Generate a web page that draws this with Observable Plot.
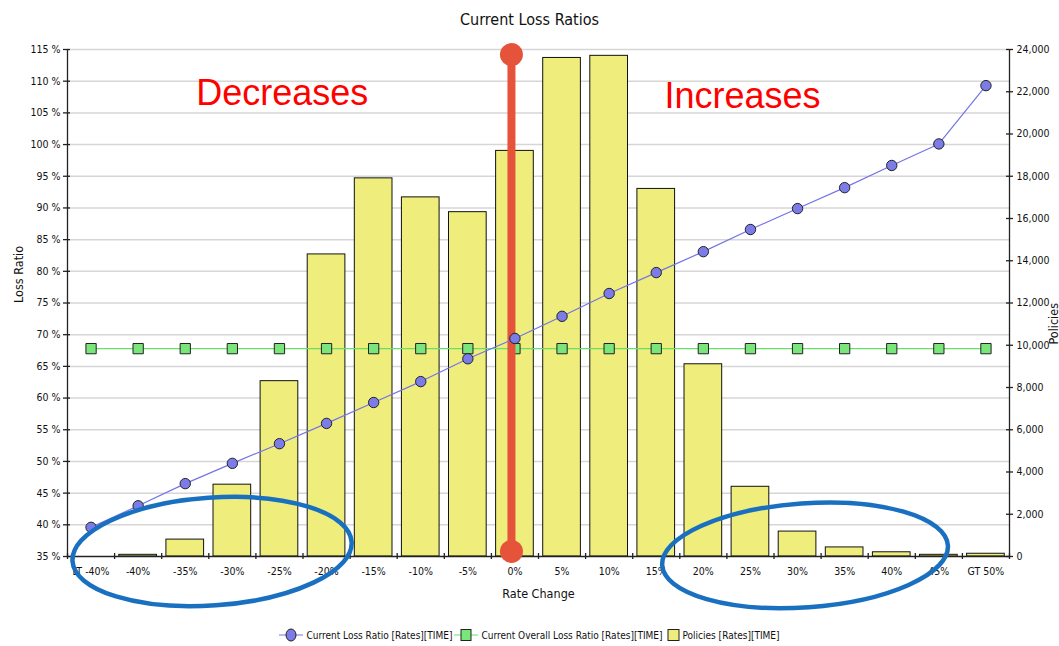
<!DOCTYPE html>
<html><head><meta charset="utf-8">
<script src="https://cdn.jsdelivr.net/npm/d3@7"></script>
<script src="https://cdn.jsdelivr.net/npm/@observablehq/plot@0.6"></script>
<style>
body{margin:0;background:#fff;font-family:"Liberation Sans Narrow","DejaVu Sans Condensed","Arial Narrow",sans-serif;color:#111;}
#title{height:36px;text-align:center;font-size:16px;line-height:40px;color:#111;}
#chart{height:584px;}
#legend{height:26px;display:flex;justify-content:center;align-items:center;font-size:10px;padding-top:4px;box-sizing:border-box;color:#111;}
#legend .item{display:flex;align-items:center;margin:0 1px;}
#legend svg{margin-right:2px;}
</style></head><body>
<div id="title">Current Loss Ratios</div>
<div id="chart"></div>
<div id="legend"></div>
<script>
// ---- data ----
const categories = ["LT -40%","-40%","-35%","-30%","-25%","-20%","-15%","-10%","-5%","0%","5%","10%","15%","20%","25%","30%","35%","40%","45%","GT 50%"];
const policies = [0, 80, 800, 3400, 8300, 14300, 17900, 17000, 16300, 19200, 23600, 23700, 17400, 9100, 3300, 1180, 430, 200, 80, 130];
const lossRatio = [39.6, 43.0, 46.5, 49.7, 52.8, 56.0, 59.3, 62.6, 66.2, 69.4, 72.9, 76.5, 79.8, 83.1, 86.6, 89.9, 93.2, 96.7, 100.1, 109.3];
const overallLossRatio = [67.8,67.8,67.8,67.8,67.8,67.8,67.8,67.8,67.8,67.8,67.8,67.8,67.8,67.8,67.8,67.8,67.8,67.8,67.8,67.8];
const leftTicks = [35,40,45,50,55,60,65,70,75,80,85,90,95,100,105,110,115];
const rightTicks = [0,2000,4000,6000,8000,10000,12000,14000,16000,18000,20000,22000,24000];
const seriesNames = ["Current Loss Ratio [Rates][TIME]","Current Overall Loss Ratio [Rates][TIME]","Policies [Rates][TIME]"];
const annotations = [
  {text:"Decreases", x:4.06, y:108.1},
  {text:"Increases", x:13.83, y:107.6}
];
const divider = {category:"0%", from:114.2, to:35.8};
const ellipses = [
  {cx:2.58, cy:35.7, rx:2.97, ry:8.5, rot:-4},
  {cx:15.17, cy:35.1, rx:3.04, ry:8.2, rot:-4}
];

// ---- layout ----
const W = 1059, H = 584, mL = 67, mR = 50, mT = 13, mB = 64;
const n = categories.length;
const yMin = 35, yMax = 115, polMax = 24000;
const toLeft = p => yMin + p * (yMax - yMin) / polMax;
const pxX = n / (W - mL - mR);
const pxY = (yMax - yMin) / (H - mT - mB);
const rows = categories.map((c, i) => ({i, c, p: policies[i], lr: lossRatio[i], olr: overallLossRatio[i]}));
const bounds = d3.range(0, n + 1).map(k => k - 0.5);
const font = '"Liberation Sans Narrow","DejaVu Sans Condensed","Arial Narrow",sans-serif';
const divIdx = categories.indexOf(divider.category);

const plot = Plot.plot({
  width: W, height: H, marginLeft: mL, marginRight: mR, marginTop: mT, marginBottom: mB,
  x: {type: "linear", domain: [-0.5, n - 0.5], axis: null},
  y: {domain: [yMin, yMax], axis: null},
  style: {fontFamily: font, fontSize: "11px", color: "#111", background: "transparent", overflow: "visible"},
  marks: [
    Plot.ruleY(leftTicks.filter(v => v > yMin), {x1: -0.5, x2: n - 0.5, stroke: "#d6d6d6", strokeWidth: 1.5}),
    Plot.rectY(rows, {x1: d => d.i - 0.4, x2: d => d.i + 0.4, y1: yMin, y2: d => toLeft(d.p), fill: "#efee7d", stroke: "#111", strokeWidth: 1}),
    // axes lines
    Plot.ruleX([-0.5, n - 0.5], {y1: yMin, y2: yMax, stroke: "#222", strokeWidth: 1.3}),
    Plot.ruleY([yMin], {x1: -0.5, x2: n - 0.5, stroke: "#222", strokeWidth: 1.3}),
    // left ticks
    Plot.ruleY(leftTicks, {x1: -0.5 - 4 * pxX, x2: -0.5 + 3 * pxX, stroke: "#222", strokeWidth: 1.3}),
    Plot.text(leftTicks, {x: -0.5, y: d => d, text: d => d + " %", textAnchor: "end", dx: -7, fontSize: 10.5}),
    // right ticks
    Plot.ruleY(rightTicks.map(toLeft), {x1: n - 0.5 - 3 * pxX, x2: n - 0.5 + 4 * pxX, stroke: "#222", strokeWidth: 1.3}),
    Plot.text(rightTicks, {x: n - 0.5, y: d => toLeft(d), text: d => d3.format(",")(d), textAnchor: "start", dx: 7, fontSize: 10.5}),
    // x ticks at boundaries
    Plot.ruleX(bounds, {y1: yMin - 3 * pxY, y2: yMin + 3 * pxY, stroke: "#222", strokeWidth: 1.3}),
    Plot.text(rows, {x: "i", y: yMin, text: "c", dy: 15, fontSize: 10.5}),
    // axis titles
    Plot.text(["Rate Change"], {frameAnchor: "bottom", dy: 41, fontSize: 12.5}),
    Plot.text(["Loss Ratio"], {frameAnchor: "left", dx: -49, rotate: -90, fontSize: 12.5, letterSpacing: "1.2px"}),
    Plot.text(["Policies"], {frameAnchor: "right", dx: 44, dy: 0, rotate: -90, fontSize: 12.5, letterSpacing: "1.2px"}),
    // series
    Plot.line(rows, {x: "i", y: "olr", stroke: "#66e066", strokeWidth: 1.2}),
    Plot.dot(rows, {x: "i", y: "olr", symbol: "square", r: 5.8, fill: "#7ae57a", stroke: "#222", strokeWidth: 1}),
    Plot.ruleX([divIdx], {dx: -3.5, y1: divider.from, y2: divider.to, stroke: "#e5533a", strokeWidth: 8}),
    Plot.dot([divider.from, divider.to], {x: divIdx, y: d => d, dx: -3.5, r: 11.5, fill: "#e5533a"}),
    Plot.line(rows, {x: "i", y: "lr", stroke: "#7474e6", strokeWidth: 1.2}),
    Plot.dot(rows, {x: "i", y: "lr", r: 5.2, fill: "#7c7ce9", stroke: "#222", strokeWidth: 1}),
    // annotations
    Plot.text(annotations, {x: "x", y: "y", text: "text", fill: "#ff0000", fontSize: 36, fontFamily: '"Liberation Sans",Arial,sans-serif'})
  ]
});
document.getElementById("chart").appendChild(plot);

// hand-drawn ellipses positioned through the plot's scales
const sx = plot.scale("x"), sy = plot.scale("y");
const svg = d3.select(plot);
const g = svg.append("g").attr("fill", "none").attr("stroke", "#1a70c0").attr("stroke-width", 4.5);
for (const e of ellipses) {
  const cx = sx.apply(e.cx), cy = sy.apply(e.cy);
  const rx = sx.apply(e.cx + e.rx) - cx, ry = sy.apply(e.cy) - sy.apply(e.cy + e.ry);
  g.append("ellipse").attr("cx", cx).attr("cy", cy).attr("rx", rx).attr("ry", ry)
    .attr("transform", `rotate(${e.rot} ${cx} ${cy})`);
}

// legend
const lg = d3.select("#legend");
const sw = [
  s => { s.append("line").attr("x1",0).attr("x2",24).attr("y1",7).attr("y2",7).attr("stroke","#7474e6");
         s.append("ellipse").attr("cx",12).attr("cy",7).attr("rx",5).attr("ry",6).attr("fill","#7c7ce9").attr("stroke","#222"); },
  s => { s.append("line").attr("x1",0).attr("x2",24).attr("y1",7).attr("y2",7).attr("stroke","#66e066");
         s.append("rect").attr("x",7).attr("y",1.5).attr("width",10).attr("height",11).attr("fill","#7ae57a").attr("stroke","#222"); },
  s => { s.append("rect").attr("x",3).attr("y",1.5).attr("width",11).attr("height",11).attr("fill","#efee7d").attr("stroke","#222"); }
];
seriesNames.forEach((name, k) => {
  const it = lg.append("div").attr("class", "item");
  const s = it.append("svg").attr("width", k === 2 ? 16 : 25).attr("height", 14);
  sw[k](s);
  it.append("span").text(name);
});
</script>
</body></html>
